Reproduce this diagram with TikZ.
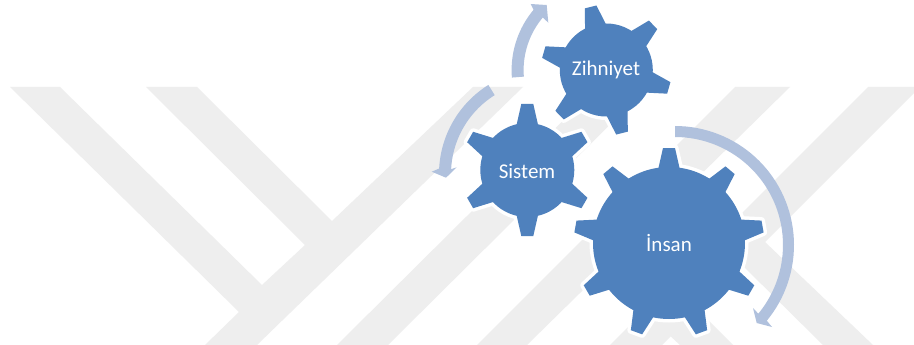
\documentclass[tikz,border=0pt]{standalone}
\usepackage{fontspec}
\setmainfont{Carlito}
\definecolor{gearblue}{HTML}{4F81BD}
\definecolor{arcblue}{HTML}{B0C1DD}
\definecolor{mark}{HTML}{EEEEEE}
\tikzset{
  band/.style={fill=mark,draw=none},
  arrowshape/.style={fill=arcblue,draw=none},
  gearlabel/.style={text=white,font=\fontsize{21}{24}\selectfont,inner sep=0pt},
}
% centre x, centre y, body radius, tip radius, teeth, first angle (counter-clockwise as seen)
\newcommand{\gearshape}[6]{%
  \begin{scope}[shift={(#1,#2)}]
    \fill[white,draw=white,line width=7pt,line join=round] (0,0) circle[radius=#3];
    \pgfmathsetmacro{\gearstep}{360/#5}
    \foreach \k in {1,...,#5}{
      \pgfmathsetmacro{\gearang}{#6+\k*\gearstep}
      \begin{scope}[rotate=\gearang]
        \fill[white,draw=white,line width=7pt,line join=round] (#3-3,-11) -- (#4,-6) -- (#4,6) -- (#3-3,11) -- cycle;
      \end{scope}
    }
    \fill[gearblue] (0,0) circle[radius=#3];
    \foreach \k in {1,...,#5}{
      \pgfmathsetmacro{\gearang}{#6+\k*\gearstep}
      \begin{scope}[rotate=\gearang]
        \fill[gearblue] (#3-3,-11) -- (#4,-6) -- (#4,6) -- (#3-3,11) -- cycle;
      \end{scope}
    }
  \end{scope}%
}
% centre x, centre y, outer R, inner r, start, end, head corner outer, tip, head corner inner
\newcommand{\blockarrow}[9]{%
  \fill[arrowshape] plot[domain=#5:#6,samples=50] ({#1+#3*cos(\x)},{#2+#3*sin(\x)})
    -- #7 -- #8 -- #9
    -- plot[domain=#6:#5,samples=50] ({#1+#4*cos(\x)},{#2+#4*sin(\x)}) -- cycle;%
}
\begin{document}
\begin{tikzpicture}[x=1pt,y=-1pt]
\useasboundingbox (0,0) rectangle (914,345);
\fill[white] (0,0) rectangle (914,345);
\begin{scope}
\clip (0,0) rectangle (914,345);
% watermark
\fill[band] (10,87) -- (60,87) -- (262,285) -- (305,245) -- (146,87) -- (197,87) -- (332,221) -- (473,87) -- (523,87) -- (257,345) -- (205,345) -- (239,312) -- cycle;
\fill[band] (337,345) -- (597,87) -- (648,87) -- (388,345) -- cycle;
\fill[band] (477,345) -- (735,87) -- (790,87) -- (527,345) -- cycle;
\fill[band] (868,87) -- (920,87) -- (765,242) -- (873,345) -- (823,345) -- (742,265) -- (662,345) -- (610,345) -- cycle;
\fill[band] (680,345) -- (667,333) -- (697,309) -- (733,345) -- cycle;
\end{scope}
% arrows
\blockarrow{605.6}{70.2}{94}{82}{175.5}{220}{(530.7,4)}{(546.7,5)}{(548.3,22.7)}
\blockarrow{544}{174}{105}{93}{238}{183}{(431.7,171.7)}{(446,177.7)}{(456.7,167.3)}
\blockarrow{675}{245}{119}{108}{-90}{39.5}{(772,327)}{(756.7,323)}{(753,308)}
% gears
\gearshape{606.3}{70}{46.5}{65}{6}{44}
\gearshape{527.3}{170}{47}{66}{6}{30}
\gearshape{669}{243}{76}{95}{9}{10}
\node[gearlabel] (zihniyet) at (606,70) {Zihniyet};
\node[gearlabel] (sistem) at (527,171) {Sistem};
\node[gearlabel] (insan) at (669,243) {İnsan};
\end{tikzpicture}
\end{document}
